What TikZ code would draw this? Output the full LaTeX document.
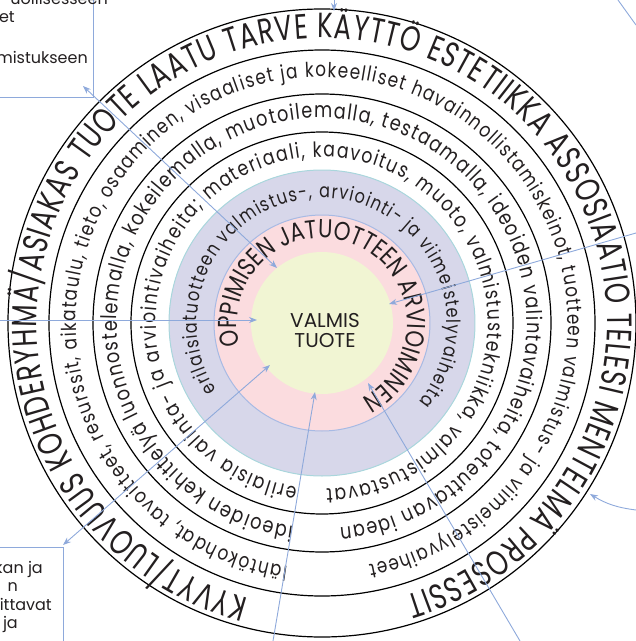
\documentclass[tikz,border=0pt]{standalone}
\usepackage{fontspec}
\setmainfont{Poppins}
\newfontfamily\ringfont[FakeStretch=0.82]{Poppins}
\newfontfamily\outerfont[FakeStretch=0.74]{Poppins}
\usetikzlibrary{decorations.text,arrows.meta}
\definecolor{lavfill}{HTML}{D7D7EA}
\definecolor{pinkfill}{HTML}{FBDCDF}
\definecolor{greenfill}{HTML}{F1F5D3}
\definecolor{tealedge}{HTML}{A9D6DC}
\definecolor{blueedge}{HTML}{A7BAE4}
\definecolor{linkblue}{HTML}{8EA9DB}
\definecolor{inkgrey}{HTML}{231F20}
% text set along a clockwise arc: font, radius, start angle, end angle, size, text
\newcommand\ringtext[6]{%
  \path[decorate, decoration={text along path, text align=fit to path,
     text color=inkgrey,
     text={|#1\fontsize{#5}{#5}\selectfont|#6}}]
     (c) ++(#3:#2) arc[start angle=#3, end angle=#4, radius=#2];}
\begin{document}
\begin{tikzpicture}[x=1pt,y=1pt,
  ringline/.style={draw=black, line width=1.2pt},
  link/.style={draw=linkblue, line width=0.9pt},
  onehead/.style={-{Stealth[length=8pt,width=6pt]}},
  twoheads/.style={{Stealth[length=8pt,width=6pt]}-{Stealth[length=8pt,width=6pt]}},
  boxtext/.style={anchor=base east, inner sep=0pt, text=inkgrey,
    font=\fontsize{16}{19}\selectfont}]
\useasboundingbox (-322,-318) rectangle (314,323);
\coordinate (c) at (0,0);

% coloured core discs
\fill[lavfill] (c) circle[radius=153pt];
\draw[tealedge, line width=1pt] (c) circle[radius=153pt];
\fill[pinkfill] (c) circle[radius=108pt];
\draw[blueedge, line width=1pt] (c) circle[radius=108pt];
\fill[greenfill] (c) circle[radius=71pt];

% black ring borders
\draw[ringline] (c) circle[radius=314pt];
\draw[ringline] (c) circle[radius=273pt];
\draw[ringline] (c) circle[radius=229pt];
\draw[ringline] (c) circle[radius=191pt];

% ring texts
\ringtext{\outerfont}{285pt}{255}{-73}{35}{KYVYT/LUOVUUS KOHDERYHMÄ/ASIAKAS TUOTE LAATU TARVE KÄYTTÖ ESTETIIKKA ASSOSIAATIO TELESI MENTELMÄ PROSESSIT}
\ringtext{\ringfont}{246pt}{262}{-79}{20.5}{lähtökohdat, tavoitteet, resurssit, aikataulu, tieto, osaaminen, visaaliset ja kokeelliset havainnollistamiskeinot, tuotteen valmistus- ja viimeistelyvaiheet}
\ringtext{\ringfont}{205pt}{262}{-85}{21.5}{ideoiden kehittelyä luonnostelemalla, kokeilemalla, muotoilemalla, testaamalla, ideoiden valintavaiheita, toteuttavan idean}
\ringtext{\ringfont}{166pt}{261.5}{-88.5}{21}{erilaisia valinta- ja arviointivaiheita; materiaali, kaavoitus, muoto, valmistustekniikka, valmistustavat}
\ringtext{\ringfont}{125pt}{212.5}{-39}{19.5}{erilaisiatuotteen valmistus-, arviointi- ja viimeistelyvaiheita}
\ringtext{\ringfont}{85pt}{195}{-60}{26}{OPPIMISEN JATUOTTEEN ARVIOIMINEN}

\node[align=center, text=inkgrey, font=\fontsize{20}{20}\selectfont] (core) at (3,-8) {VALMIS\\TUOTE};

% boxes at the picture edges
\draw[link] (-322,226) -- (-229,226) -- (-229,323);
\draw[link] (-322,-224) -- (-259,-224) -- (-259,-318);
\node[boxtext] (tl1) at (-214,319) {uollisesseen};
\node[boxtext] (tl2) at (-307,301) {et};
\node[boxtext] (tl3) at (-234,260) {mistukseen};
\node[boxtext] (bl1) at (-279,-250) {kan ja};
\node[boxtext] (bl2) at (-304,-268) {n};
\node[boxtext] (bl3) at (-270,-287) {vittavat};
\node[boxtext] (bl4) at (-304,-305) {ja};

% connectors
\coordinate (topin) at (12,323);   \coordinate (toptip) at (12,312);
\coordinate (tlbox) at (-239,237); \coordinate (tlcore) at (-45,55);
\coordinate (leftin) at (-322,3);  \coordinate (lefttip) at (-65,3);
\coordinate (blbox) at (-259,-222);\coordinate (blcore) at (-52,-42);
\coordinate (botin) at (-49,-318); \coordinate (bottip) at (-7,-69);
\coordinate (brin) at (198,-318);  \coordinate (brtip) at (46,-60);
\coordinate (rin) at (314,90);     \coordinate (rtip) at (67,19);
\coordinate (cin) at (314,-187);   \coordinate (ctip) at (268,-171);
\coordinate (trA) at (296,323);    \coordinate (trB) at (314,298);

\draw[link, onehead] (topin) -- (toptip);
\draw[link, twoheads] (tlbox) -- (tlcore);
\draw[link, onehead] (leftin) -- (lefttip);
\draw[link, twoheads] (blbox) -- (blcore);
\draw[link, onehead] (botin) -- (bottip);
\draw[link, onehead] (brin) -- (brtip);
\draw[link, onehead] (rin) -- (rtip);
\draw[link, onehead] (cin) to[bend left=12] (ctip);
\draw[link] (trA) -- (trB);
\end{tikzpicture}
\end{document}
